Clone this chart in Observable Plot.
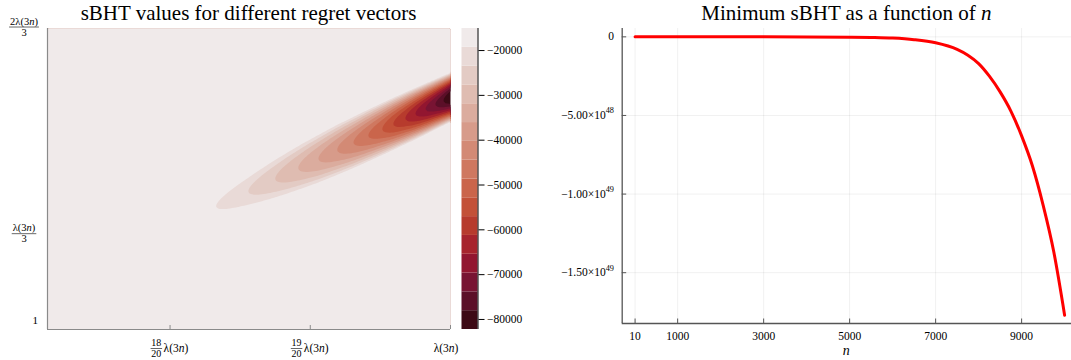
<!DOCTYPE html>
<html><head><meta charset="utf-8">
<script src="https://cdn.jsdelivr.net/npm/d3@7"></script>
<script src="https://cdn.jsdelivr.net/npm/@observablehq/plot@0.6"></script>
<style>
body{margin:0;background:#fff;}
#wrap{position:relative;width:1071px;height:360px;overflow:hidden;background:#fff;}
#wrap svg{position:absolute;top:0;overflow:visible;}
</style></head><body><div id="wrap"></div>
<script>
// ---------------- data: left panel (units of λ(3n)) ----------------
const leftTitle = "sBHT values for different regret vectors";
const xDomainLeft = [0.8563, 1.0];
const yDomainLeft = [0.1812, 0.6667];
const xTicksLeft = [0.9, 0.95, 1.0];
const xTickNum = ["18", "19", null];
const xTickDen = ["20", "20", null];
const yTicksLeft = [0.1957, 1 / 3, 2 / 3];
const yTickNum = [null, "λ(3n)", "2λ(3n)"];
const yTickDen = [null, "3", "3"];
// colour bar
const colorMin = -82240, colorMax = -15080, nBands = 16;
const colorTicks = [-20000, -30000, -40000, -50000, -60000, -70000, -80000];
const bandColors = ["#f0eaea","#e9dad7","#e3cbc4","#dfbcb1","#dbac9e","#d79b8a","#d38a75","#cf7860",
                    "#ca654b","#c35138","#b73b2d","#a7242d","#921630","#781433","#5b0f28","#3d0a15"]; // light -> dark
// ridge of the sBHT surface (x position, centre y, value, half height of outer contour)
const ridgeX = [1.0, 0.9975, 0.9946, 0.9911, 0.9875, 0.9839, 0.9796, 0.9757, 0.9707, 0.9654, 0.9596, 0.9529, 0.9457, 0.9375, 0.9279, 0.9164, 0.9036, 0.8563];
const ridgeY = [0.5556, 0.5504, 0.5444, 0.5369, 0.5294, 0.5219, 0.5129, 0.5047, 0.4942, 0.4829, 0.4710, 0.4567, 0.4418, 0.4245, 0.4043, 0.3803, 0.3534, 0.2537];
const ridgeValue = [-82240, -78043, -73845, -69648, -65450, -61253, -57055, -52858, -48660, -44463, -40265, -36068, -31870, -27673, -23475, -19278, -15080, -15080];
const outerHalfHeight = [0.0395, 0.0399, 0.0403, 0.0409, 0.0414, 0.0417, 0.0419, 0.0419, 0.0417, 0.0412, 0.0403, 0.0383, 0.0351, 0.0301, 0.0217, 0, 0, 0];

// ---------------- data: right panel ----------------
const rightTitle = "Minimum sBHT as a function of ";
const nValues = [10, 1000, 2000, 3000, 4000, 5000, 5500, 6000, 6500, 7000, 7500, 7750, 8000, 8250, 8500, 8750, 9000, 9250, 9500, 9750, 10000];
const minSBHT = [0, 0, 0, 0, -0.003e48, -0.02e48, -0.04e48, -0.08e48, -0.18e48, -0.38e48, -0.80e48, -1.17e48, -1.7e48, -2.5e48, -3.5e48, -4.72e48, -6.3e48, -8.2e48, -10.7e48, -13.7e48, -17.7e48];
const xTicksRight = [10, 1000, 3000, 5000, 7000, 9000];
const yTicksRight = [0, -5e48, -1e49, -1.5e49];
const yTickMant = ["0", "−5.00×10", "−1.00×10", "−1.50×10"];
const yTickExp = [null, "48", "49", "49"];

// ---------------- helpers ----------------
const FONT = "'Liberation Serif', 'DejaVu Serif', serif";
const wrap = document.getElementById("wrap");
function place(svg, left) { svg.style.left = left + "px"; wrap.appendChild(svg); return svg; }
function addText(svg, x, y, parts, {size = 11.5, anchor = "middle"} = {}) {
  const t = d3.select(svg).append("text").attr("x", x).attr("y", y).attr("text-anchor", anchor)
    .attr("font-family", FONT).attr("font-size", size).attr("fill", "#000");
  for (const p of parts) {
    const [s, st] = Array.isArray(p) ? p : [p, ""];
    const ts = t.append("tspan").text(s);
    if (st === "i") ts.attr("font-style", "italic");
    if (st === "sup") ts.attr("font-size", size * 0.72).attr("dy", -size * 0.48);
  }
  return t;
}
const lam = ["λ(3", ["n", "i"], ")"];
function lamParts(s) {
  const pre = s.slice(0, s.indexOf("λ"));
  return [pre + "λ(3", ["n", "i"], ")"];
}
function addFrac(svg, cx, cy, num, den, size) {
  const a = addText(svg, cx, cy - 2.2, num, {size});
  const b = addText(svg, cx, cy + size * 0.82, den, {size});
  const w = Math.max(a.node().getBBox().width, b.node().getBBox().width) + 1.5;
  d3.select(svg).append("line").attr("x1", cx - w / 2).attr("x2", cx + w / 2)
    .attr("y1", cy).attr("y2", cy).attr("stroke", "#000").attr("stroke-width", 0.6);
  return w;
}

// ---------------- left panel ----------------
const step = (colorMax - colorMin) / nBands;
const thresholds = d3.range(nBands).map(i => colorMin + i * step);
const L1 = thresholds[nBands - 1];
const colorScale = {type: "threshold", domain: thresholds.slice(1), range: bandColors.slice().reverse()};
let lastC = 0;
const curv = ridgeX.map((x, i) => { if (outerHalfHeight[i] > 0) lastC = (L1 - ridgeValue[i]) / outerHalfHeight[i] ** 2; return lastC; });
const R = d3.scaleLinear().domain(ridgeX).range(ridgeValue).clamp(true);
const Yc = d3.scaleLinear().domain(ridgeX).range(ridgeY).clamp(true);
const Cv = d3.scaleLinear().domain(ridgeX).range(curv).clamp(true);
const field = (x, y) => Math.min(colorMax, R(x) + Cv(x) * (y - Yc(x)) ** 2);

const LW = 455, LH = 360, LML = 47, LMR = 5, LMT = 28, LMB = 31;
const left = Plot.plot({
  width: LW, height: LH, marginLeft: LML, marginRight: LMR, marginTop: LMT, marginBottom: LMB,
  style: {fontFamily: FONT, fontSize: "11.5px", background: "transparent", overflow: "visible"},
  x: {domain: xDomainLeft, axis: null},
  y: {domain: yDomainLeft, axis: null},
  color: colorScale,
  marks: [
    Plot.frame({fill: bandColors[0], stroke: "none"}),
    Plot.contour({x1: xDomainLeft[0], x2: xDomainLeft[1], y1: yDomainLeft[0], y2: yDomainLeft[1],
      fill: field, thresholds, stroke: "none"}),
    Plot.ruleX([xDomainLeft[0]], {stroke: "#8a8a8a", strokeWidth: 1.2}),
    Plot.ruleY([yDomainLeft[0]], {stroke: "#8a8a8a", strokeWidth: 1.2}),
    Plot.ruleX(xTicksLeft, {stroke: "#8a8a8a", insetTop: LH - LMT - LMB - 4})
  ]
});
place(left, 0);
{
  const sx = left.scale("x"), sy = left.scale("y");
  addText(left, (LML + LW - LMR) / 2, 20, [leftTitle], {size: 21});
  yTicksLeft.forEach((v, i) => {
    const py = sy.apply(v);
    if (yTickNum[i] == null) addText(left, 38, py + 4, ["1"], {size: 11, anchor: "end"});
    else addFrac(left, 24, py - 1, lamParts(yTickNum[i]), [yTickDen[i]], 10.5);
  });
  xTicksLeft.forEach((v, i) => {
    const px = sx.apply(v), base = 352;
    if (xTickNum[i] == null) { addText(left, px - 4, base, lam, {size: 11.5}); return; }
    const t = addText(left, 0, base, lam, {size: 11.5, anchor: "start"});
    const wt = t.node().getBBox().width;
    const tmp = addText(left, 0, 0, [xTickDen[i]], {size: 10});
    const wf = tmp.node().getBBox().width + 1.5; tmp.remove();
    const start = px - (wf + 1.5 + wt) / 2;
    addFrac(left, start + wf / 2, base - 3.5, [xTickNum[i]], [xTickDen[i]], 10);
    t.attr("x", start + wf + 1.5);
  });
}

// ---------------- colour bar ----------------
const cb = Plot.plot({
  width: 100, height: LH, marginLeft: 6.5, marginRight: 77.5, marginTop: LMT, marginBottom: LMB,
  style: {fontFamily: FONT, fontSize: "11.5px", background: "transparent"},
  x: {domain: [0, 1], axis: null},
  y: {domain: [colorMin, colorMax], axis: null},
  color: colorScale,
  marks: [
    Plot.rect(thresholds, {x1: 0, x2: 1, y1: d => d, y2: d => d + step, fill: d => d, inset: 0}),
    Plot.ruleX([1], {stroke: "#000", strokeWidth: 1}),
    Plot.axisY({anchor: "right", ticks: colorTicks, tickSize: 6, tickPadding: 3, label: null,
      tickFormat: d => "−" + Math.abs(d), stroke: "#000", fontSize: 11.5})
  ]
});
place(cb, 455);

// ---------------- right panel ----------------
const RW = 545, RH = 360, RML = 81.7, RMR = 8, RMT = 28, RMB = 37;
const xr = d3.extent(nValues), yr = d3.extent(minSBHT);
const xPad = 0.03 * (xr[1] - xr[0]), yPad = 0.03 * (yr[1] - yr[0]);
const lineData = nValues.map((n, i) => ({n, v: minSBHT[i]}));
const right = Plot.plot({
  width: RW, height: RH, marginLeft: RML, marginRight: RMR, marginTop: RMT, marginBottom: RMB,
  style: {fontFamily: FONT, fontSize: "11.5px", background: "transparent"},
  x: {domain: [xr[0] - xPad, xr[1] + xPad], axis: null, label: null},
  y: {domain: [yr[0] - yPad, yr[1] + yPad], axis: null, label: null},
  marks: [
    Plot.gridX(xTicksRight, {stroke: "#000", strokeOpacity: 0.1, strokeWidth: 0.6}),
    Plot.gridY(yTicksRight, {stroke: "#000", strokeOpacity: 0.1, strokeWidth: 0.6}),
    Plot.ruleX(xTicksRight, {stroke: "#555", insetTop: RH - RMT - RMB - 4.5}),
    Plot.ruleY(yTicksRight, {stroke: "#555", insetRight: RW - RML - RMR - 4.5}),
    Plot.axisX({ticks: xTicksRight, tickSize: 0, tickPadding: 8, tickFormat: d => String(d), fontSize: 11.5, label: null}),
    Plot.line(lineData, {x: "n", y: "v", stroke: "#ff0000", strokeWidth: 3, curve: "monotone-x"}),
    Plot.ruleX([xr[0] - xPad], {stroke: "#555", strokeWidth: 1.3}),
    Plot.ruleY([yr[0] - yPad], {stroke: "#555", strokeWidth: 1.3})
  ]
});
place(right, 540);
{
  const sy = right.scale("y");
  addText(right, (RML + RW - RMR) / 2 - 3, 20, [rightTitle, ["n", "i"]], {size: 21});
  yTicksRight.forEach((v, i) => {
    const py = sy.apply(v);
    const parts = yTickExp[i] ? [yTickMant[i], [yTickExp[i], "sup"]] : [yTickMant[i]];
    addText(right, 614 - 540, py + 4, parts, {size: 11.5, anchor: "end"});
  });
  addText(right, (RML + RW - RMR) / 2 - 3, 355, [["n", "i"]], {size: 14});
}
</script></body></html>
